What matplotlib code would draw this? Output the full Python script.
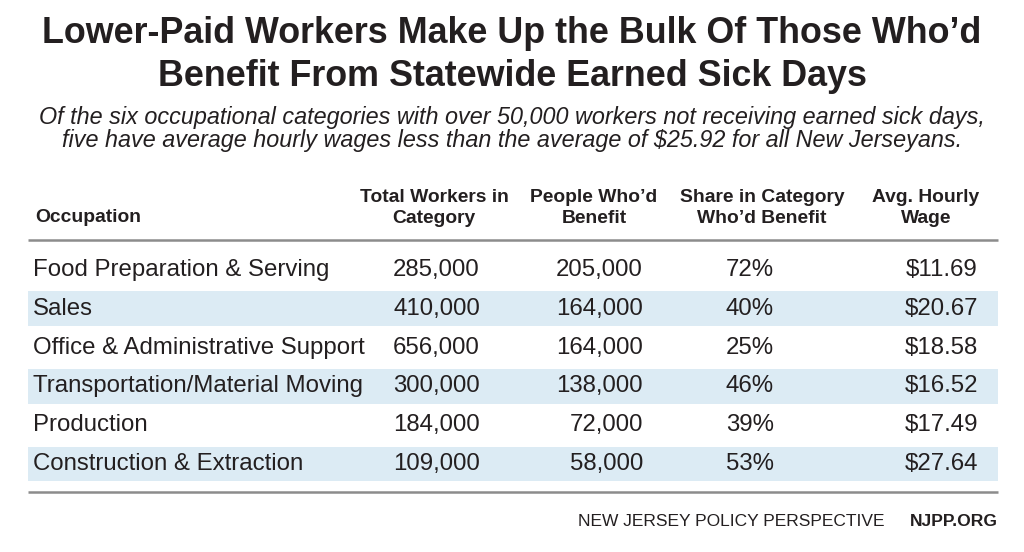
import matplotlib
matplotlib.use("Agg")
import matplotlib.pyplot as plt
from matplotlib.patches import Rectangle

title = "Lower-Paid Workers Make Up the Bulk Of Those Who\u2019d\nBenefit From Statewide Earned Sick Days"
subtitle = ("Of the six occupational categories with over 50,000 workers not receiving earned sick days,\n"
            "five have average hourly wages less than the average of $25.92 for all New Jerseyans.")
headers = ["Occupation", "Total Workers in\nCategory", "People Who\u2019d\nBenefit",
           "Share in Category\nWho\u2019d Benefit", "Avg. Hourly\nWage"]
occupations = ["Food Preparation & Serving", "Sales", "Office & Administrative Support",
               "Transportation/Material Moving", "Production", "Construction & Extraction"]
total_workers = [285000, 410000, 656000, 300000, 184000, 109000]
people_benefit = [205000, 164000, 164000, 138000, 72000, 58000]
share = [72, 40, 25, 46, 39, 53]
wage = [11.69, 20.67, 18.58, 16.52, 17.49, 27.64]

plt.rcParams['font.family'] = ['Liberation Sans', 'DejaVu Sans']
fig = plt.figure(figsize=(10.24, 5.52), dpi=100)
ax = fig.add_axes([0, 0, 1, 1])
ax.set_xlim(0, 1024)
ax.set_ylim(552, 0)
ax.axis('off')

txt = '#231f20'
ax.text(512, 55, title, ha='center', va='center', fontsize=25.8, fontweight='bold',
        color=txt, linespacing=1.32)
ax.text(512, 129, subtitle, ha='center', va='center', fontsize=16.8, style='italic',
        color=txt, linespacing=1.05)

# headers
ax.text(35, 218, headers[0], ha='left', va='center', fontsize=13.9, fontweight='bold', color=txt)
hx = [434, 594, 762, 926]
for x, h in zip(hx, headers[1:]):
    ax.text(x, 208, h, ha='center', va='center', fontsize=13.9, fontweight='bold',
            color=txt, linespacing=1.3)

ax.plot([28, 998], [240, 240], color='#8c8c8c', lw=1.8, solid_capstyle='butt')
ax.plot([28, 998], [492, 492], color='#8c8c8c', lw=1.8, solid_capstyle='butt')

row0 = 270
rh = 38.8
for i, occ in enumerate(occupations):
    y = row0 + i * rh
    if i % 2 == 1:
        ax.add_patch(Rectangle((28, y - rh / 2 + 2), 970, rh - 4, facecolor='#dcebf4',
                               edgecolor='none', zorder=0))
    ax.text(33, y, occ, ha='left', va='center', fontsize=17.3, color=txt)
    ax.text(480, y, f"{total_workers[i]:,}", ha='right', va='center', fontsize=17.3, color=txt)
    ax.text(643, y, f"{people_benefit[i]:,}", ha='right', va='center', fontsize=17.3, color=txt)
    ax.text(750, y, f"{share[i]}%", ha='center', va='center', fontsize=17.3, color=txt)
    ax.text(978, y, f"${wage[i]:.2f}", ha='right', va='center', fontsize=17.3, color=txt)

ax.text(884, 522, "NEW JERSEY POLICY PERSPECTIVE", ha='right', va='center', fontsize=12.5, color=txt)
ax.text(998, 522, "NJPP.ORG", ha='right', va='center', fontsize=12.6, fontweight='bold', color=txt)

fig.savefig("out.png", dpi=100, facecolor='white')
